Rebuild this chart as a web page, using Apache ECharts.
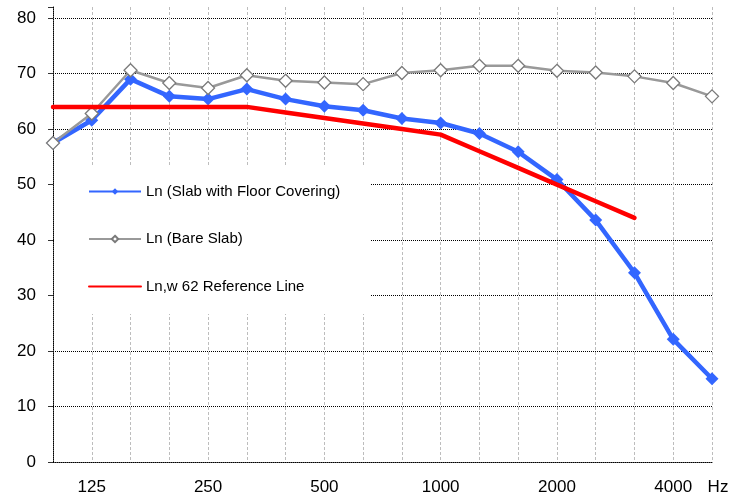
<!DOCTYPE html>
<html>
<head>
<meta charset="utf-8">
<script src="https://cdn.jsdelivr.net/npm/echarts@6/dist/echarts.min.js"></script>
<style>html,body{margin:0;padding:0;background:#fff}#c{width:744px;height:498px}</style>
</head>
<body>
<div id="c"></div>
<script>
var frequencies = ['100','125','160','200','250','315','400','500','630','800','1000','1250','1600','2000','2500','3150','4000','5000'];
var tickLabels = ['', '125', '', '', '250', '', '', '500', '', '', '1000', '', '', '2000', '', '', '4000', 'Hz'];
var slabWithCovering = [57.5, 61.6, 69.0, 65.9, 65.4, 67.2, 65.4, 64.1, 63.4, 61.9, 61.1, 59.2, 55.9, 50.9, 43.6, 34.1, 22.1, 15.0];
var bareSlab = [57.5, 62.8, 70.6, 68.3, 67.4, 69.7, 68.7, 68.4, 68.1, 70.1, 70.6, 71.4, 71.4, 70.5, 70.2, 69.5, 68.3, 65.9];
var referenceLine = [64, 64, 64, 64, 64, 64, 63, 62, 61, 60, 59, 56, 53, 50, 47, 44, null, null];
var yTicks = [0, 10, 20, 30, 40, 50, 60, 70, 80];
var seriesNames = ['Ln (Slab with Floor Covering)', 'Ln (Bare Slab)', 'Ln,w 62 Reference Line'];

var FONT = '"Liberation Sans", Arial, sans-serif';
var chart = echarts.init(document.getElementById('c'), null, {renderer: 'canvas'});
chart.setOption({
  animation: false,
  backgroundColor: '#fff',
  grid: {left: 53, right: 32, top: 7, bottom: 36, containLabel: false},
  legend: {
    orient: 'vertical',
    left: 55, top: 167,
    padding: [17, 30, 20, 33],
    backgroundColor: '#fff',
    itemWidth: 52, itemHeight: 8, itemGap: 32.5,
    textStyle: {fontFamily: FONT, fontSize: 15, color: '#000'},
    data: [
      {name: seriesNames[0]},
      {name: seriesNames[1]},
      {name: seriesNames[2], itemStyle: {opacity: 0}}
    ]
  },
  xAxis: {
    type: 'category',
    boundaryGap: false,
    data: frequencies,
    axisLine: {show: true, lineStyle: {color: '#000', type: 'dotted', width: 1}},
    axisTick: {show: false},
    splitLine: {show: true, interval: 0, lineStyle: {color: '#bdbdbd', type: [3, 2], width: 1}},
    axisLabel: {
      interval: 0, margin: 17, fontFamily: FONT, fontSize: 17, color: '#000',
      formatter: function (v, i) { var t = tickLabels[i]; return t === 'Hz' ? '{hz|Hz}' : t; },
      rich: {hz: {fontFamily: FONT, fontSize: 17, color: '#000', padding: [0, 0, 0, 12]}}
    }
  },
  yAxis: {
    type: 'value',
    position: 'left',
    min: 0, max: 82, interval: 10,
    axisLine: {show: true, lineStyle: {color: '#000', type: 'dotted', width: 1}},
    axisTick: {show: true, inside: false, length: 5, lineStyle: {color: '#333', type: 'solid', width: 1}},
    splitLine: {show: true, showMaxLine: false, lineStyle: {color: '#000', type: 'dotted', width: 1}},
    axisLabel: {
      margin: 17, fontFamily: FONT, fontSize: 17, color: '#000',
      formatter: function (v) { return yTicks.indexOf(v) >= 0 ? String(v) : ''; }
    }
  },
  series: [
    {
      name: seriesNames[0], type: 'line', data: slabWithCovering,
      symbol: 'diamond', symbolSize: 13,
      lineStyle: {color: '#3366ff', width: 4.5},
      itemStyle: {color: '#3366ff'},
      z: 2
    },
    {
      name: seriesNames[1], type: 'line', data: bareSlab,
      symbol: 'diamond', symbolSize: 13,
      lineStyle: {color: '#999999', width: 2.5},
      itemStyle: {color: '#ffffff', borderColor: '#7a7a7a', borderWidth: 1.3},
      z: 3
    },
    {
      name: seriesNames[2], type: 'line', data: referenceLine,
      symbol: 'none',
      lineStyle: {color: '#ff0000', width: 4.5, cap: 'round'},
      itemStyle: {color: '#ff0000'},
      z: 4
    }
  ]
});
</script>
</body>
</html>
